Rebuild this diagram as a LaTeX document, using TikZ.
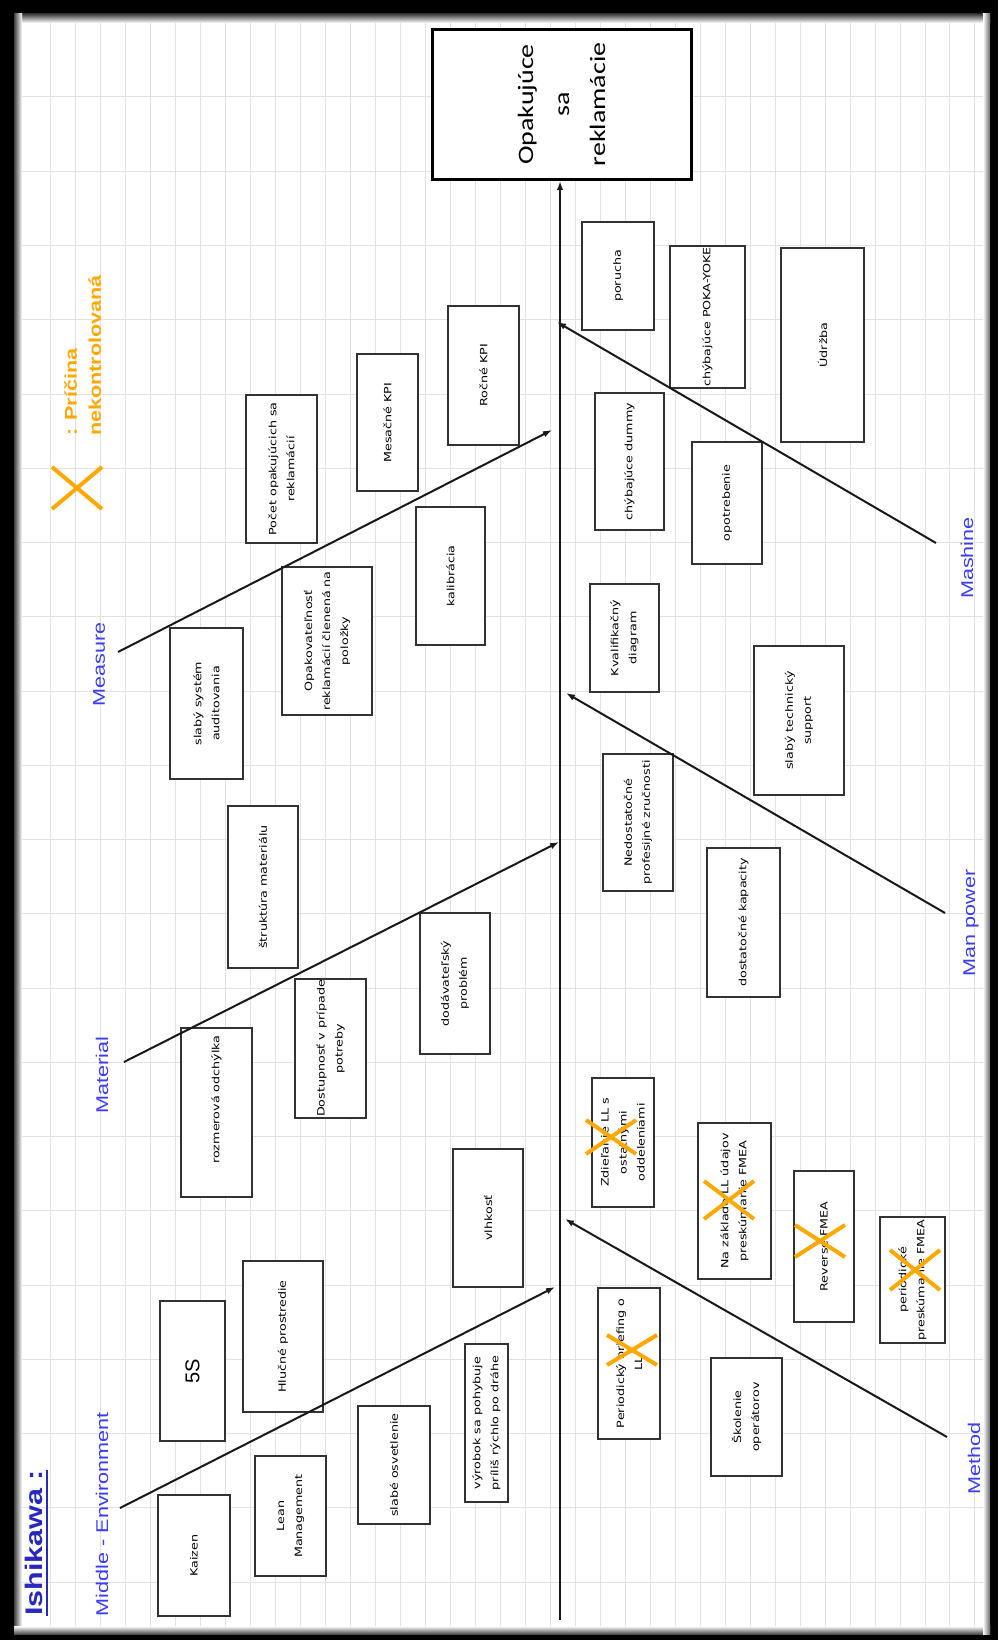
\documentclass[tikz,border=0pt]{standalone}
\usepackage{fontspec}
\usetikzlibrary{arrows.meta}
\newfontfamily\boxfont[FakeStretch=1.27]{DejaVu Sans}
\newfontfamily\headfont[FakeStretch=1.27]{Carlito}
\newfontfamily\labfont[FakeStretch=1.27]{Liberation Sans}
\newfontfamily\plainsans{Liberation Sans}
\definecolor{lblue}{RGB}{60,60,245}
\definecolor{tblue}{RGB}{40,40,190}
\definecolor{xorange}{RGB}{255,168,0}
\definecolor{gridc}{RGB}{226,226,226}
\definecolor{boxc}{RGB}{50,50,50}
\tikzset{
 cbox/.style={draw=boxc, line width=1.3pt, fill=white, rotate=90, align=center, inner sep=1pt, font={\boxfont\fontsize{10}{18}\selectfont}},
 headbox/.style={draw=black, line width=3pt, fill=white, rotate=90, align=center, inner sep=0pt, font={\headfont\fontsize{22}{36}\selectfont}},
 lab/.style={rotate=90, text=lblue, inner sep=0pt, font={\labfont\fontsize{17}{20}\selectfont}},
 legendtxt/.style={rotate=90, text=xorange, align=left, inner sep=0pt, font={\labfont\bfseries\fontsize{17}{24}\selectfont}},
 titletxt/.style={rotate=90, text=tblue, inner sep=0pt, font={\labfont\bfseries\fontsize{24}{28}\selectfont}},
 branch/.style={draw=black!90, line width=2pt, -{Latex[length=9pt,width=6.5pt]}},
 spinestyle/.style={draw=black!90, line width=2pt, -{Latex[length=9pt,width=6.5pt]}},
 xmark/.style={draw=xorange, line width=4pt},
 gridline/.style={draw=gridc, line width=1pt},
}
\newcommand{\cbx}[6]{\node[cbox, minimum width={#5-#3}, minimum height={#4-#2}] (#1) at ({(#2+#4)/2},{(#3+#5)/2}) {#6};}
\newcommand{\xmk}[3]{\draw[xmark] ({#1-25},{#2-#3}) -- ({#1+25},{#2+#3}) ({#1-25},{#2+#3}) -- ({#1+25},{#2-#3});}
\begin{document}
\begin{tikzpicture}[x=1pt,y=-1pt]
\useasboundingbox (0,0) rectangle (998,1640);
% frame and sheet
\fill[black] (0,0) rectangle (998,1640);
\fill[white] (14,14) rectangle (990,1634);
\foreach \k in {0,...,37} {\draw[gridline] ({50.7+24.98*\k},14) -- ({50.7+24.98*\k},1634);}
\foreach \k in {0,...,21} {\draw[gridline] (14,{22.75+74.25*\k}) -- (990,{22.75+74.25*\k});}
\shade[top color=black!75, bottom color=white] (14,14) rectangle (990,23);
\shade[left color=black!75, right color=white] (14,14) rectangle (22,1634);
\shade[top color=white, bottom color=black!70] (14,1626) rectangle (990,1634);
\shade[left color=white, right color=black!60] (983,14) rectangle (990,1634);

% head
\node[headbox, minimum width=150, minimum height=259] (head) at (561.5,104.5) {Opakujúce\\sa\\reklamácie};

% cause boxes
\cbx{poruch}{582}{222}{654}{330}{porucha}
\cbx{pokayoke}{670}{246}{745}{388}{chýbajúce POKA-YOKE}
\cbx{udrzba}{781}{248}{864}{442}{Údržba}
\cbx{rocne}{448}{306}{519}{445}{Ročné KPI}
\cbx{mesacne}{357}{354}{418}{491}{Mesačné KPI}
\cbx{pocet}{246}{395}{317}{543}{Počet opakujúcich sa\\reklamácií}
\cbx{dummy}{595}{393}{664}{530}{chýbajúce dummy}
\cbx{opotreb}{692}{442}{762}{564}{opotrebenie}
\cbx{kalib}{416}{507}{485}{645}{kalibrácia}
\cbx{opakov}{282}{567}{372}{715}{Opakovateľnosť\\reklamácií členená na\\položky}
\cbx{slabysys}{170}{628}{243}{779}{slabý systém\\auditovania}
\cbx{kvalif}{590}{584}{659}{692}{Kvalifikačný\\diagram}
\cbx{support}{754}{646}{844}{795}{slabý technický\\support}
\cbx{nedost}{603}{754}{673}{891}{Nedostatočné\\profesijné zručnosti}
\cbx{struktura}{228}{806}{298}{968}{štruktúra materiálu}
\cbx{kapacity}{707}{848}{780}{997}{dostatočné kapacity}
\cbx{dodav}{420}{913}{490}{1054}{dodávateľský\\problém}
\cbx{dostup}{295}{979}{366}{1118}{Dostupnosť v prípade\\potreby}
\cbx{rozmer}{181}{1028}{252}{1197}{\hspace*{26pt}rozmerová odchýlka}
\cbx{zdiel}{592}{1078}{654}{1207}{Zdieľanie LL s\\ostatnými\\oddeleniami}
\cbx{nazaklade}{698}{1123}{771}{1279}{Na základe LL údajov\\preskúmanie FMEA}
\cbx{reverse}{794}{1171}{854}{1322}{Reverse FMEA}
\cbx{vlhkost}{453}{1149}{523}{1287}{vlhkosť}
\cbx{periodfmea}{880}{1217}{945}{1343}{periodické\\preskúmanie FMEA}
\cbx{briefing}{598}{1288}{660}{1439}{Periodický briefing o\\LL}
\cbx{skolenie}{711}{1358}{782}{1476}{Školenie\\operátorov}
\cbx{fives}{160}{1301}{225}{1441}{{\plainsans\fontsize{20}{24}\selectfont 5S}}
\cbx{hlucne}{243}{1261}{323}{1412}{Hlučné prostredie}
\cbx{osvet}{358}{1406}{430}{1524}{slabé osvetlenie}
\cbx{vyrobok}{465}{1344}{508}{1502}{výrobok sa pohybuje\\príliš rýchlo po dráhe}
\cbx{kaizen}{158}{1495}{230}{1616}{Kaizen}
\cbx{lean}{255}{1456}{326}{1576}{Lean\\Management}

% category labels
\node[lab] (lmeas) at (99,664) {Measure};
\node[lab] (lmat) at (102,1075) {Material};
\node[lab] (lenv) at (102,1514) {Middle - Environment};
\node[lab] (lmash) at (967,558) {Mashine};
\node[lab] (lman) at (971,923) {Man power};
\node[lab] (lmeth) at (974,1458) {Method};

% title and legend
\node[titletxt] (title) at (34,1543) {Ishikawa :};
\draw[tblue, line width=2pt] ([xshift=3.5pt]title.south west) -- ([xshift=3.5pt]title.south east);
\node[legendtxt, anchor=west] (legend) at (82.5,436) {: Príčina\\nekontrolovaná};
\xmk{77}{488}{21}

% spine
\coordinate (spb) at (560,1620);
\draw[spinestyle] (spb) -- (spb |- head.west);

% branches
\coordinate (measS) at (118,652);  \coordinate (measE) at (552,430);
\coordinate (matS) at (124,1062);  \coordinate (matE) at (559,842);
\coordinate (envS) at (120,1508);  \coordinate (envE) at (555,1287);
\coordinate (mashS) at (936,543);  \coordinate (mashE) at (557,322);
\coordinate (manS) at (945,913);   \coordinate (manE) at (566,693);
\coordinate (methS) at (947,1437); \coordinate (methE) at (565,1219);
\draw[branch] (measS) -- (measE);
\draw[branch] (matS) -- (matE);
\draw[branch] (envS) -- (envE);
\draw[branch] (mashS) -- (mashE);
\draw[branch] (manS) -- (manE);
\draw[branch] (methS) -- (methE);

% uncontrolled causes
\xmk{611}{1137}{17}
\xmk{729}{1200}{19}
\xmk{820}{1241}{16}
\xmk{915}{1270}{20}
\xmk{632}{1350}{15}
\end{tikzpicture}
\end{document}
